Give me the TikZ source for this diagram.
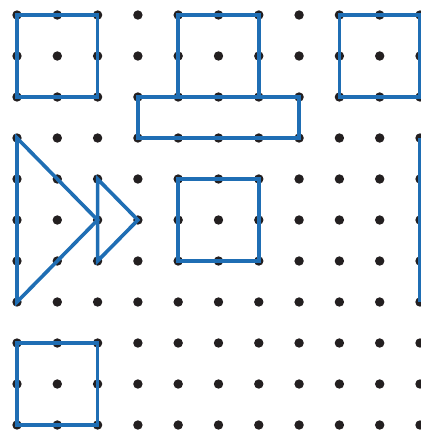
\documentclass[tikz,border=0pt]{standalone}
\definecolor{dotc}{HTML}{231F20}
\definecolor{bandc}{HTML}{1F6EB4}
\begin{document}
\begin{tikzpicture}[x=40.3pt,y=-41pt,
  outline/.style={draw=bandc, line width=3.6pt, line join=miter},
  peg/.style={fill=dotc}]
\useasboundingbox (-0.4218,-0.3659) rectangle (10.0248,10.1220);
\clip (-0.4218,-0.3659) rectangle (10.0248,10.1220);
\foreach \i in {0,...,10}
  \foreach \j in {0,...,10}
    \fill[peg] (\i,\j) circle[radius=4.7pt];
\draw[outline] (0,0) rectangle (2,2);
\draw[outline] (4,0) rectangle (6,2);
\draw[outline] (3,2) rectangle (7,3);
\draw[outline] (8,0) rectangle (10,2);
\draw[outline] (0,3) -- (2,5) -- (0,7) -- cycle;
\draw[outline] (2,4) -- (3,5) -- (2,6) -- cycle;
\draw[outline] (4,4) rectangle (6,6);
\draw[outline] (10,3) -- (10,7);
\draw[outline] (0,8) rectangle (2,10);
\end{tikzpicture}
\end{document}
